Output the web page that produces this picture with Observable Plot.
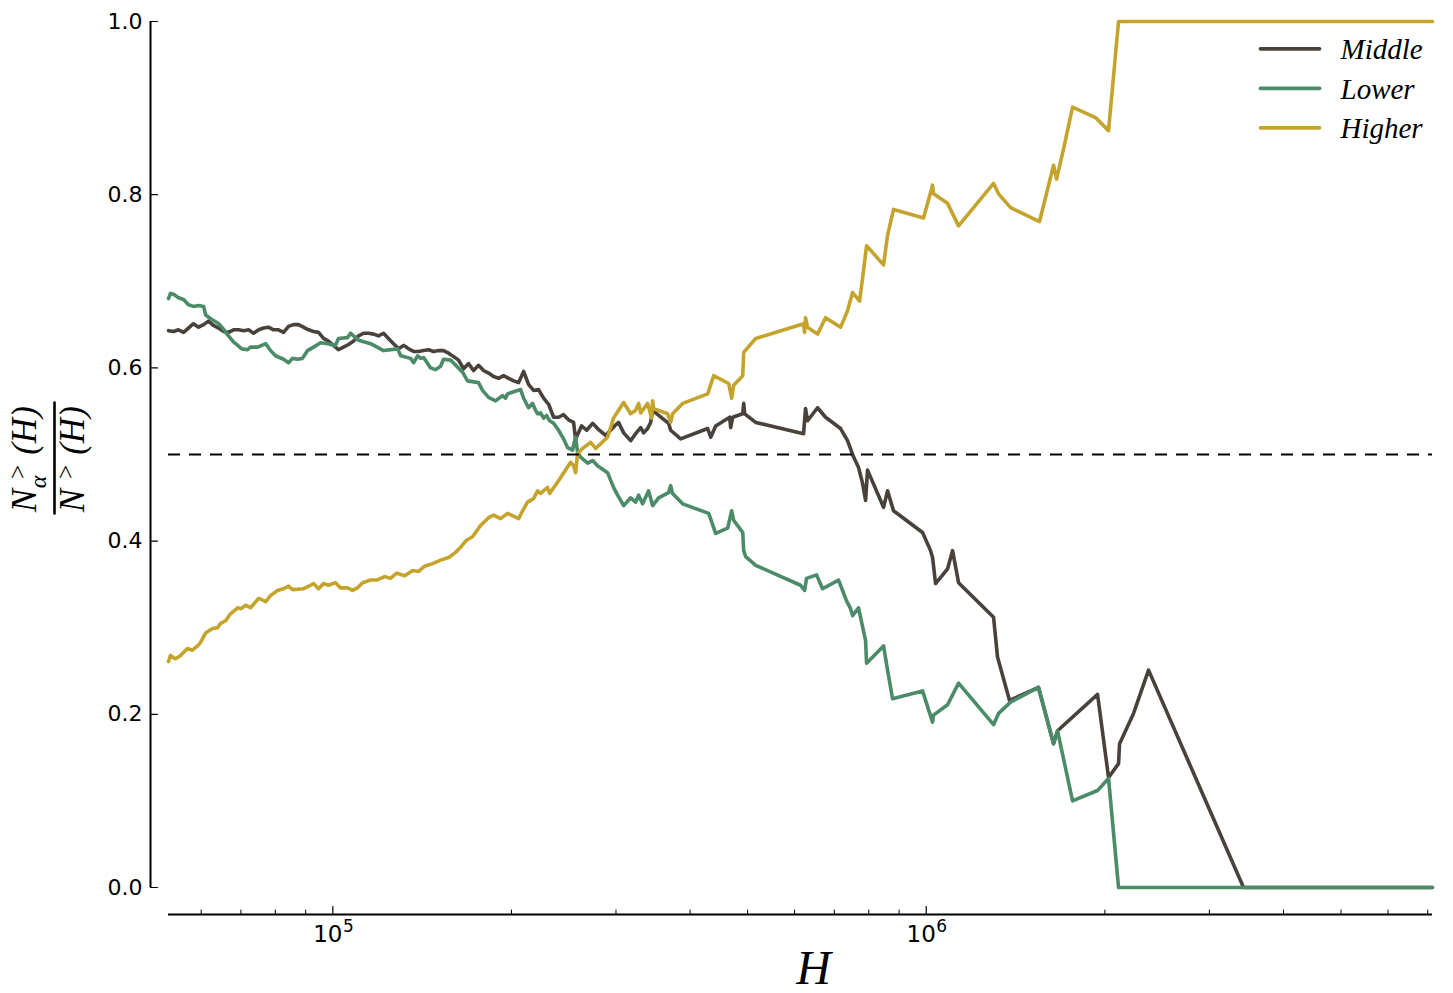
<!DOCTYPE html>
<html>
<head>
<meta charset="utf-8">
<script src="https://cdn.jsdelivr.net/npm/d3@7"></script>
<script src="https://cdn.jsdelivr.net/npm/@observablehq/plot@0.6"></script>
<style>
html, body { margin: 0; padding: 0; background: #fff; }
svg { display: block; }
</style>
</head>
<body>
<div id="chart"></div>
<script>
// ---------- data ----------
const seriesNames = ["Middle", "Lower", "Higher"];
const seriesColors = ["#48423a", "#4b8b68", "#c4a42c"];

const middleH = [52850,53890,54950,56030,57100,58220,59400,60570,61700,62910,64200,65460,66700,68010,69400,70760,72100,73520,75000,76470,77900,79430,81000,82590,84200,85850,87500,89220,91000,92790,94600,96460,98300,100230,102200,104210,106300,108390,110500,112670,114900,117160,119400,121750,124100,126540,129100,131640,134200,136830,139500,142240,145000,147850,150700,153660,156700,159780,162900,166100,169300,172630,176000,179450,183000,186590,190200,193940,197800,201680,205600,209640,213700,217900,222200,226560,231000,235540,240100,244820,249600,254500,256500,260500,262500,267700,274000,279300,288100,293800,298400,303100,309100,317600,323800,330200,334000,339200,343200,345800,368000,370900,385600,428200,433300,441700,466400,468200,471900,490600,492500,494400,516000,621200,626000,630900,655900,676600,717200,736800,754500,769000,781000,790300,796300,847300,860600,880800,985800,1016900,1024800,1036800,1086300,1107500,1133600,1298500,1318800,1381600,1546100,1638800,1664500,1944000,2028700,2109000,2117200,2235400,2369300,3425500,7131000];
const middleV = [0.643,0.642,0.644,0.641,0.646,0.651,0.647,0.650,0.654,0.649,0.646,0.642,0.641,0.644,0.644,0.643,0.644,0.640,0.644,0.646,0.647,0.644,0.644,0.641,0.648,0.650,0.650,0.647,0.644,0.642,0.641,0.634,0.631,0.626,0.621,0.624,0.627,0.631,0.637,0.640,0.640,0.639,0.637,0.640,0.634,0.628,0.622,0.626,0.622,0.619,0.619,0.620,0.621,0.619,0.620,0.620,0.617,0.613,0.609,0.599,0.605,0.597,0.603,0.597,0.594,0.590,0.588,0.591,0.588,0.585,0.583,0.596,0.581,0.574,0.575,0.565,0.558,0.543,0.543,0.546,0.540,0.537,0.518,0.528,0.533,0.528,0.536,0.530,0.522,0.528,0.533,0.537,0.525,0.516,0.524,0.531,0.525,0.530,0.537,0.551,0.536,0.528,0.518,0.530,0.520,0.533,0.543,0.531,0.543,0.547,0.559,0.547,0.537,0.524,0.553,0.539,0.554,0.543,0.530,0.516,0.497,0.485,0.467,0.447,0.482,0.439,0.458,0.435,0.410,0.389,0.381,0.351,0.368,0.389,0.352,0.312,0.266,0.216,0.231,0.166,0.181,0.223,0.127,0.143,0.166,0.201,0.251,0,0];

const lowerH = [52850,53260,53890,54950,56030,57100,58220,59400,60570,61040,62180,64200,65200,66700,68010,69130,70210,71820,72660,74710,77070,78510,80050,82590,84200,85520,87160,88870,90650,92790,95340,97920,101010,102200,105890,107130,108390,110500,115800,121750,128600,130100,135200,136830,138960,140600,142240,146100,149000,151900,153660,157900,165450,168640,176000,178750,183000,188040,193180,195450,197030,207200,209640,213700,217050,219600,221330,223930,226560,229200,231900,235540,240100,244820,248630,253500,255500,256500,258500,261500,268750,274030,279300,290400,297200,301900,309100,317600,323800,327600,332700,340500,345800,354000,368000,370900,373700,388600,429900,441700,462800,470000,473700,490600,492500,496300,516000,614000,623600,628500,653400,668700,711600,734000,745500,751300,769000,790300,793300,847300,860600,877400,985800,1024800,1028800,1086300,1133600,1298500,1323900,1387100,1546100,1638800,1664500,1764200,1944000,2028700,2109000,7131000];
const lowerV = [0.680,0.686,0.685,0.681,0.679,0.673,0.671,0.672,0.671,0.661,0.657,0.651,0.646,0.637,0.630,0.626,0.622,0.621,0.624,0.624,0.628,0.620,0.614,0.610,0.606,0.611,0.610,0.611,0.620,0.624,0.629,0.628,0.626,0.634,0.635,0.640,0.637,0.632,0.628,0.620,0.622,0.614,0.611,0.606,0.614,0.611,0.612,0.600,0.598,0.602,0.610,0.609,0.595,0.585,0.583,0.574,0.566,0.562,0.568,0.565,0.570,0.575,0.565,0.554,0.559,0.551,0.547,0.548,0.542,0.545,0.539,0.536,0.528,0.518,0.508,0.505,0.516,0.520,0.502,0.497,0.490,0.493,0.487,0.479,0.462,0.453,0.441,0.450,0.445,0.453,0.443,0.458,0.441,0.450,0.456,0.464,0.455,0.443,0.432,0.409,0.415,0.435,0.424,0.410,0.389,0.382,0.372,0.349,0.343,0.357,0.361,0.345,0.355,0.331,0.322,0.314,0.323,0.285,0.259,0.279,0.251,0.218,0.227,0.191,0.199,0.211,0.236,0.188,0.201,0.214,0.231,0.166,0.181,0.100,0.112,0.126,0,0];

const higherH = [52850,53260,54310,55380,56880,57990,59170,59860,61040,62660,63950,64700,65970,67220,69130,69940,71310,72660,75000,77070,78510,80680,82590,84200,85520,89220,91710,92790,94600,96460,98300,101010,102990,105890,107970,110070,112230,115800,118470,122220,125070,128090,132150,136300,139500,142790,147270,151900,156700,161030,164170,167980,171960,177370,183000,186590,191680,197030,205600,208820,212870,217900,221330,223930,230100,231900,239160,246730,251550,254500,256500,258500,263570,271900,277250,290400,297200,303100,309100,317600,323800,327600,330200,339200,344500,345800,347200,366600,370900,373700,388600,428200,438300,464600,470000,473700,490600,492500,516000,621200,623600,626000,630900,655900,676600,717200,736800,751300,772100,784200,793300,847300,860600,880800,989600,1024800,1028800,1086300,1133600,1298500,1323900,1387100,1552200,1638800,1658100,1703700,1764200,1928900,2028700,2109000,7131000];
const higherV = [0.261,0.268,0.264,0.268,0.276,0.274,0.279,0.283,0.294,0.299,0.300,0.305,0.308,0.316,0.323,0.322,0.326,0.323,0.334,0.330,0.337,0.343,0.345,0.348,0.344,0.345,0.349,0.351,0.345,0.351,0.349,0.352,0.346,0.346,0.343,0.346,0.352,0.355,0.355,0.359,0.357,0.363,0.360,0.366,0.365,0.371,0.374,0.378,0.381,0.387,0.393,0.401,0.405,0.418,0.427,0.430,0.426,0.432,0.426,0.435,0.445,0.449,0.458,0.455,0.462,0.455,0.468,0.482,0.491,0.487,0.479,0.501,0.507,0.514,0.507,0.520,0.542,0.551,0.560,0.547,0.551,0.559,0.548,0.559,0.542,0.562,0.553,0.547,0.537,0.547,0.559,0.570,0.591,0.582,0.565,0.580,0.591,0.618,0.634,0.651,0.641,0.658,0.647,0.639,0.658,0.647,0.666,0.687,0.677,0.713,0.741,0.719,0.753,0.783,0.773,0.811,0.801,0.790,0.764,0.813,0.801,0.785,0.769,0.834,0.818,0.853,0.901,0.889,0.874,1,1];

const majorTicks = [1e5, 1e6];
const minorTicks = [6e4, 7e4, 8e4, 9e4, 2e5, 3e5, 4e5, 5e5, 6e5, 7e5, 8e5, 9e5, 2e6, 3e6, 4e6, 5e6, 6e6, 7e6];
const yTicks = [0, 0.2, 0.4, 0.6, 0.8, 1.0];
const refLevel = 0.5;

// ---------- build ----------
const toRows = (hs, vs) => hs.map((h, i) => ({H: h, v: vs[i]}));
const seriesRows = [toRows(middleH, middleV), toRows(lowerH, lowerV), toRows(higherH, higherV)];
const xDomain = d3.extent([...middleH, ...lowerH, ...higherH]);

const tickShape = { draw(ctx, l) { ctx.moveTo(0, 0); ctx.lineTo(0, -l); } };
const serif = "Liberation Serif, Times New Roman, serif";
const sans = "DejaVu Sans, sans-serif";

const marks = [];

// data lines
seriesRows.forEach((rows, i) => {
  marks.push(Plot.line(rows, {x: "H", y: "v", stroke: seriesColors[i], strokeWidth: 3.6, strokeLinejoin: "round"}));
});

// dashed reference line
marks.push(Plot.ruleY([refLevel], {stroke: "#000", strokeWidth: 1.8, strokeDasharray: "12,9"}));

// spines (offset)
marks.push(Plot.ruleY([0], {dy: 27, stroke: "#000", strokeWidth: 2}));
marks.push(Plot.ruleX([xDomain[0]], {dx: -18, stroke: "#000", strokeWidth: 2}));

// x ticks (inward)
marks.push(Plot.vector(majorTicks, {x: d => d, frameAnchor: "bottom", dy: 27, length: 8, rotate: 0, anchor: "start", shape: tickShape, stroke: "#000", strokeWidth: 1.2}));
marks.push(Plot.vector(minorTicks, {x: d => d, frameAnchor: "bottom", dy: 27, length: 4.5, rotate: 0, anchor: "start", shape: tickShape, stroke: "#000", strokeWidth: 1}));

// x tick labels 10^n
marks.push(Plot.text(majorTicks, {x: d => d, frameAnchor: "bottom", dx: -5, dy: 47, text: d => "10", fontFamily: sans, fontSize: 23, fill: "#000", lineAnchor: "middle"}));
marks.push(Plot.text(majorTicks, {x: d => d, frameAnchor: "bottom", dx: 15.5, dy: 39, text: d => String(Math.round(Math.log10(d))), fontFamily: sans, fontSize: 17, fill: "#000", lineAnchor: "middle"}));

// y ticks (inward) and labels
marks.push(Plot.vector(yTicks, {y: d => d, frameAnchor: "left", dx: -18, length: 7, rotate: 90, anchor: "start", shape: tickShape, stroke: "#000", strokeWidth: 1.2}));
marks.push(Plot.text(yTicks, {y: d => d, frameAnchor: "left", dx: -26, text: d => d3.format(".1f")(d), textAnchor: "end", fontFamily: sans, fontSize: 22, fill: "#000"}));

// x axis title
marks.push(Plot.text(["H"], {frameAnchor: "bottom", dx: 13, dy: 96, text: d => d, lineAnchor: "bottom", fontFamily: serif, fontStyle: "italic", fontSize: 48, fill: "#000"}));

// y axis title: fraction N_alpha^>(H) / N^>(H), rotated
const yl = (t, dx, dy, size) => Plot.text([t], {frameAnchor: "left", dx, dy, text: d => d, rotate: -90, lineAnchor: "bottom", textAnchor: "middle", fontFamily: serif, fontStyle: "italic", fontSize: size, fill: "#000"});
marks.push(yl("N", -133, 46, 35));
marks.push(yl(">", -143, 17.5, 25));
marks.push(yl("α", -123, 27.5, 24));
marks.push(yl("(H)", -133, -24, 35));
marks.push(yl("N", -85, 46, 35));
marks.push(yl(">", -95, 17.5, 25));
marks.push(yl("(H)", -85, -24, 35));
marks.push(Plot.vector([0], {frameAnchor: "left", dx: -114, dy: 3.5, length: 111, rotate: 0, anchor: "middle", shape: tickShape, stroke: "#000", strokeWidth: 2.6}));

// legend
seriesNames.forEach((name, i) => {
  marks.push(Plot.vector([name], {frameAnchor: "top-right", dx: -172, dy: 27.3 + 39.5 * i, length: 59, rotate: 90, anchor: "start", shape: tickShape, stroke: seriesColors[i], strokeWidth: 3.8}));
  marks.push(Plot.text([name], {frameAnchor: "top-right", dx: -92, dy: 37.5 + 39.6 * i, text: d => d, textAnchor: "start", lineAnchor: "bottom", fontFamily: serif, fontStyle: "italic", fontSize: 29, fill: "#000"}));
});

const chart = Plot.plot({
  width: 1453,
  height: 993,
  marginLeft: 168,
  marginRight: 21,
  marginTop: 21,
  marginBottom: 106,
  x: {type: "log", domain: xDomain, axis: null},
  y: {domain: [0, 1], axis: null},
  style: {background: "#fff", overflow: "visible"},
  marks
});
document.getElementById("chart").appendChild(chart);
</script>
</body>
</html>
